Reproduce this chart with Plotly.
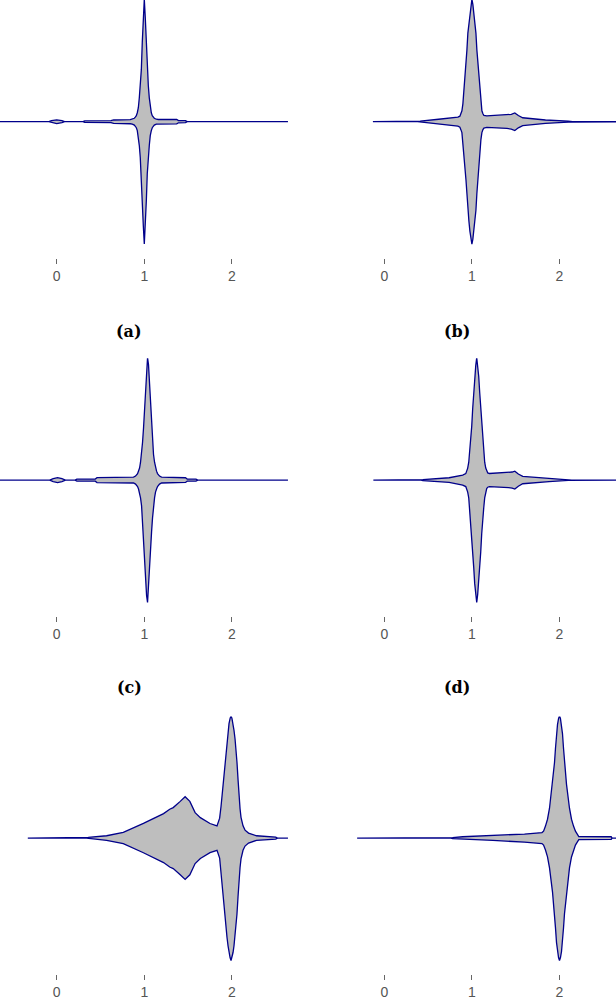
import plotly.graph_objects as go

# density profiles (half width, relative to tallest peak)
x_a = [-0.70, -0.09, -0.06, 0.0, 0.06, 0.09, 0.30, 0.32, 0.62, 0.65, 0.84,
       0.863, 0.886, 0.897, 0.909, 0.920, 0.932, 0.943, 0.954, 0.966, 0.977, 0.989,
       1.0,
       1.011, 1.023, 1.034, 1.046, 1.057, 1.068, 1.080, 1.091, 1.103, 1.114, 1.137,
       1.16, 1.37, 1.39, 1.47, 1.49, 2.64]
w_a = [0, 0, 0.008, 0.015, 0.008, 0, 0, 0.006, 0.008, 0.014, 0.017,
       0.020, 0.028, 0.037, 0.049, 0.073, 0.114, 0.195, 0.293, 0.423, 0.65, 0.854,
       1.0,
       0.854, 0.65, 0.423, 0.293, 0.195, 0.114, 0.073, 0.049, 0.037, 0.028, 0.020,
       0.018, 0.018, 0.009, 0.008, 0, 0]

x_b = [-0.13, 0.38, 0.41, 0.62, 0.84,
       0.863, 0.874, 0.886, 0.897, 0.909, 0.920, 0.932, 0.943, 0.954, 0.966, 0.977, 0.989,
       1.0,
       1.011, 1.023, 1.034, 1.046, 1.057, 1.068, 1.080, 1.091, 1.103, 1.114, 1.126, 1.137,
       1.17, 1.40, 1.45, 1.49, 1.53, 1.58, 1.70, 1.84, 2.10, 2.15, 2.70]
w_b = [0, 0, 0.005, 0.02, 0.037,
       0.045, 0.065, 0.089, 0.146, 0.244, 0.35, 0.472, 0.585, 0.724, 0.813, 0.894, 0.959,
       1.0,
       0.959, 0.894, 0.813, 0.724, 0.585, 0.472, 0.35, 0.244, 0.146, 0.089, 0.065, 0.052,
       0.047, 0.055, 0.06, 0.072, 0.05, 0.032, 0.022, 0.014, 0.004, 0, 0]

x_c = [-0.70, -0.08, -0.04, 0.01, 0.06, 0.10, 0.21, 0.23, 0.44, 0.46,
       0.877, 0.900, 0.923, 0.934, 0.946, 0.957, 0.969, 0.980, 0.991, 1.003, 1.014, 1.026,
       1.037,
       1.048, 1.060, 1.071, 1.083, 1.094, 1.105, 1.117, 1.128, 1.140, 1.151, 1.174, 1.197,
       1.47, 1.49, 1.59, 1.61, 2.64]
w_c = [0, 0, 0.012, 0.02, 0.012, 0, 0, 0.008, 0.009, 0.02,
       0.024, 0.033, 0.053, 0.073, 0.098, 0.146, 0.211, 0.309, 0.423, 0.569, 0.780, 0.943,
       1.0,
       0.943, 0.780, 0.569, 0.423, 0.309, 0.211, 0.146, 0.098, 0.073, 0.053, 0.033, 0.024,
       0.019, 0.009, 0.008, 0, 0]

x_d = [-0.125, 0.42, 0.44, 0.74, 0.895,
       0.930, 0.941, 0.952, 0.964, 0.975, 0.987, 0.998, 1.009, 1.021, 1.032, 1.044,
       1.055,
       1.066, 1.078, 1.089, 1.101, 1.112, 1.123, 1.135, 1.146, 1.158, 1.169, 1.181,
       1.20, 1.42, 1.46, 1.49, 1.53, 1.58, 1.88, 2.10, 2.14, 2.70]
w_d = [0, 0, 0.004, 0.019, 0.041,
       0.053, 0.069, 0.098, 0.146, 0.228, 0.325, 0.439, 0.585, 0.715, 0.846, 0.935,
       1.0,
       0.935, 0.846, 0.715, 0.585, 0.439, 0.325, 0.228, 0.146, 0.098, 0.069, 0.058,
       0.054, 0.061, 0.066, 0.073, 0.05, 0.03, 0.012, 0.003, 0, 0]

x_e = [-0.33, 0.34, 0.36, 0.57, 0.76, 0.99, 1.22, 1.29, 1.33, 1.41, 1.466, 1.52,
       1.58, 1.64, 1.75, 1.83, 1.86,
       1.876, 1.887, 1.899, 1.910, 1.922, 1.933, 1.944, 1.956, 1.967, 1.979,
       1.99,
       2.001, 2.013, 2.024, 2.036, 2.047, 2.058, 2.070, 2.081, 2.093, 2.104, 2.115, 2.127,
       2.150, 2.19, 2.28, 2.50, 2.52, 2.64]
w_e = [0, 0, 0.006, 0.019, 0.046, 0.12, 0.20, 0.236, 0.249, 0.30, 0.338, 0.30,
       0.208, 0.167, 0.119, 0.10, 0.163,
       0.26, 0.34, 0.43, 0.52, 0.62, 0.73, 0.81, 0.88, 0.935, 0.976,
       1.0,
       0.976, 0.935, 0.88, 0.81, 0.73, 0.62, 0.48, 0.34, 0.24, 0.17, 0.13, 0.10,
       0.065, 0.041, 0.019, 0.008, 0, 0]

x_f = [-0.31, 0.76, 0.78, 0.895, 1.24, 1.60, 1.80,
       1.818, 1.840, 1.863, 1.886, 1.920, 1.932, 1.943, 1.954, 1.966, 1.977, 1.989,
       2.0,
       2.011, 2.023, 2.034, 2.046, 2.057, 2.068, 2.080, 2.114, 2.137, 2.160, 2.182,
       2.22, 2.59, 2.60, 2.70]
w_f = [0, 0, 0.004, 0.011, 0.019, 0.033, 0.045,
       0.057, 0.098, 0.154, 0.244, 0.439, 0.52, 0.618, 0.732, 0.854, 0.927, 0.976,
       1.0,
       0.976, 0.927, 0.854, 0.732, 0.618, 0.52, 0.439, 0.244, 0.154, 0.098, 0.057,
       0.012, 0.011, 0, 0]

panels = [(x_a, w_a), (x_b, w_b), (x_c, w_c), (x_d, w_d), (x_e, w_e), (x_f, w_f)]
panel_labels = ["(a)", "(b)", "(c)", "(d)", "(e)", "(f)"]
tick_vals = [0, 1, 2]
tick_text = ["0", "1", "2"]

W, H = 616, 1000
PX_PER_UNIT = 87.6
# pixel layout of each column / row (left edge, right edge, position of x=0)
col_px = [(0, 300, 56.7), (316, 616, 384.3)]
row_px = [(0, 259, 122.3), (360, 619, 482.5), (720, 979, 842.3)]
HALF_PX = 123.0

fig = go.Figure()
layout = dict(
    width=W,
    height=H,
    margin=dict(l=0, r=0, t=0, b=0),
    plot_bgcolor="white",
    paper_bgcolor="white",
    showlegend=False,
)

for i, (xs, ws) in enumerate(panels):
    r, c = divmod(i, 2)
    n = "" if i == 0 else str(i + 1)
    xl, xr, x0 = col_px[c]
    yt, yb, yc = row_px[r]

    path_x = list(xs) + list(xs[::-1])
    path_y = list(ws) + [-w for w in ws[::-1]]
    fig.add_trace(
        go.Scatter(
            x=path_x,
            y=path_y,
            mode="lines",
            fill="toself",
            fillcolor="#BEBEBE",
            line=dict(color="#00008B", width=1.3),
            hoverinfo="skip",
            xaxis="x" + n,
            yaxis="y" + n,
        )
    )

    layout["xaxis" + n] = dict(
        domain=[xl / W, xr / W],
        range=[(xl - x0) / PX_PER_UNIT, (xr - x0) / PX_PER_UNIT],
        anchor="y" + n,
        showgrid=False,
        zeroline=False,
        showline=False,
        tickmode="array",
        tickvals=tick_vals,
        ticktext=tick_text,
        ticks="outside",
        ticklen=5,
        tickwidth=1,
        tickcolor="#666666",
        tickfont=dict(family="Liberation Sans", size=14, color="#555555"),
        fixedrange=True,
    )
    layout["yaxis" + n] = dict(
        domain=[1 - yb / H, 1 - yt / H],
        range=[-(yb - yc) / HALF_PX, (yc - yt) / HALF_PX],
        anchor="x" + n,
        visible=False,
        fixedrange=True,
    )

annotations = []
label_pos = [(129, 333), (457, 333), (129, 691), (457, 691), (129, 1051), (457, 1051)]
for lab, (px, py) in zip(panel_labels, label_pos):
    if py > H:
        continue
    annotations.append(
        dict(
            text="<b>" + lab + "</b>",
            x=px / W,
            y=1 - py / H,
            xref="paper",
            yref="paper",
            showarrow=False,
            xanchor="center",
            yanchor="middle",
            font=dict(family="DejaVu Serif", size=16, color="black"),
        )
    )
layout["annotations"] = annotations

fig.update_layout(**layout)
# drop the default page margin so the figure sits at the window's corner
fig.write_html(
    "out.html",
    config={"displayModeBar": False},
    post_script="document.body.style.margin='0';document.body.style.overflow='hidden';",
)
